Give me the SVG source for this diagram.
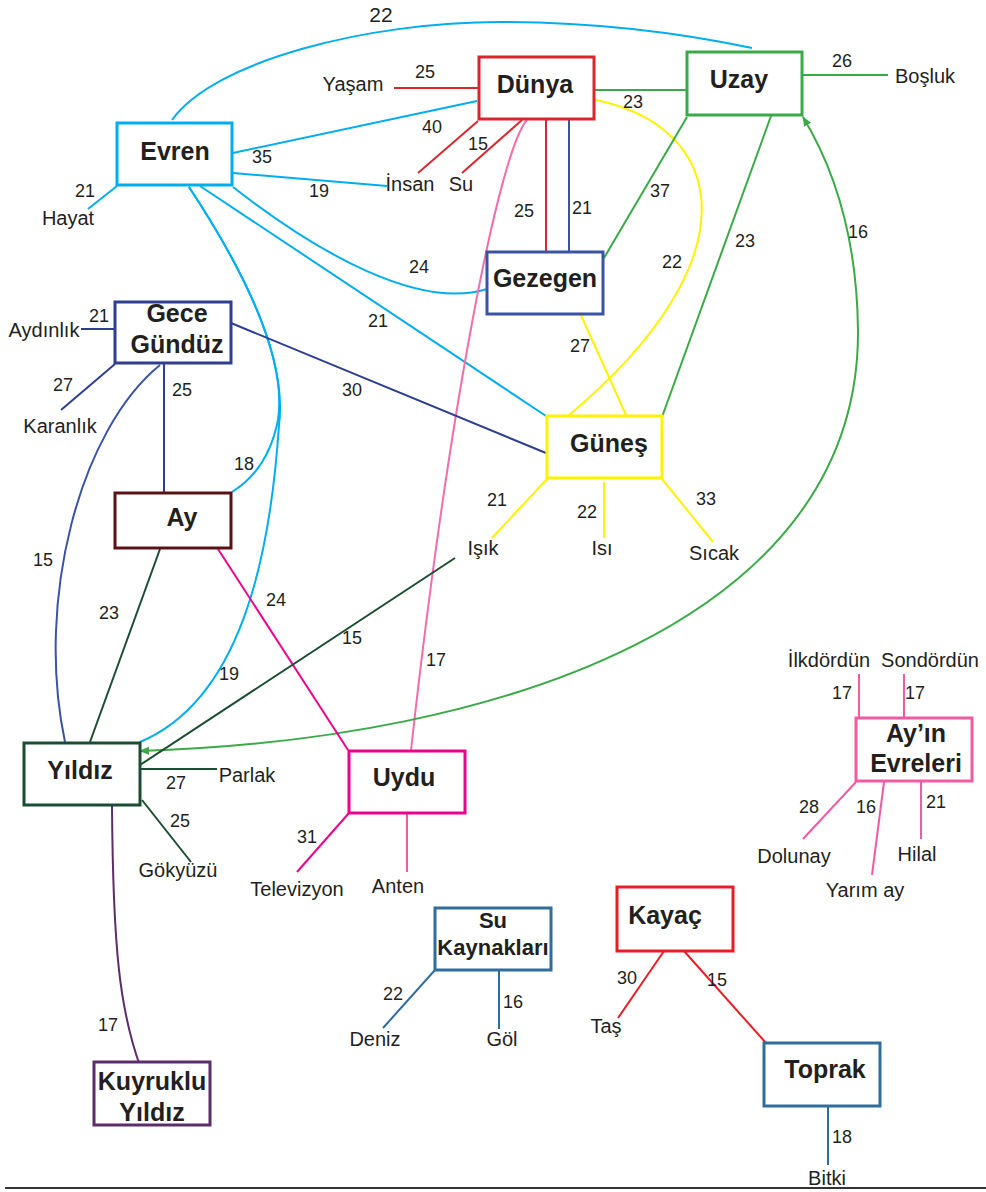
<svg xmlns="http://www.w3.org/2000/svg" width="986" height="1192" viewBox="0 0 986 1192">
<style>
text{font-family:"Liberation Sans",Arial,sans-serif;fill:#231f20}
.n{font-size:25px;font-weight:bold;text-anchor:middle}
.s{font-size:22px;font-weight:bold;text-anchor:middle}
.l{font-size:20px;text-anchor:middle}
.w{font-size:18px;text-anchor:middle}
.box{fill:#fff;stroke-width:3}
.c{fill:none;stroke-width:2}
</style>
<defs>
<marker id="ah" viewBox="0 0 10 10" refX="9" refY="5" markerWidth="10" markerHeight="10" markerUnits="userSpaceOnUse" orient="auto-start-reverse">
<path d="M0,1 L10,5 L0,9 z" fill="#3aaa47"/>
</marker>
</defs>
<rect width="986" height="1192" fill="#fff"/>
<g id="connectors">
<!-- Evren -->
<path class="c" stroke="#00aeef" d="M172,120 C215,60 370,22 500,22 C600,22 690,35 752,48"/>
<path class="c" stroke="#00aeef" d="M233,153 L477,101"/>
<path class="c" stroke="#00aeef" d="M233,173 L387,186"/>
<path class="c" stroke="#00aeef" d="M117,186 L88,209"/>
<path class="c" stroke="#00aeef" d="M233,187 C320,255 420,310 487,289"/>
<path class="c" stroke="#00aeef" d="M200,186 L546,416"/>
<path class="c" stroke="#00aeef" d="M189,187 Q290,340 278,420 Q268,470 232,492"/>
<path class="c" stroke="#00aeef" d="M189,187 Q290,340 279,425 C270,560 240,700 140,742"/>
<!-- Dünya -->
<path class="c" stroke="#d9272e" d="M394,88 L478,88"/>
<path class="c" stroke="#d9272e" d="M478,121 L418,173"/>
<path class="c" stroke="#d9272e" d="M522,120 L462,173"/>
<path class="c" stroke="#d9272e" stroke-width="4" d="M546,119 L546,252"/>
<path class="c" stroke="#3b53a4" stroke-width="2.5" d="M569,119 L569,252"/>
<path class="c" stroke="#f06eaa" d="M527,120 C500,150 450,400 411,750"/>
<path class="c" stroke="#3aaa47" stroke-width="2.5" d="M594,90 L687,90"/>
<path class="c" stroke="#fff200" d="M591,99 C730,125 755,260 568,416"/>
<!-- Uzay -->
<path class="c" stroke="#3aaa47" stroke-width="2.5" d="M802,75 L888,75"/>
<path class="c" stroke="#3aaa47" d="M687,117 L604,258"/>
<path class="c" stroke="#3aaa47" d="M771,116 L662,417"/>
<path class="c" stroke="#3aaa47" marker-start="url(#ah)" marker-end="url(#ah)" d="M140,751 C500,740 860,620 858,330 C857,240 835,170 803,117"/>
<!-- Gezegen -->
<path class="c" stroke="#fff200" d="M580,313 L626,415"/>
<!-- Gece Gündüz -->
<path class="c" stroke="#2e3f91" d="M81,329 L115,329"/>
<path class="c" stroke="#2e3f91" d="M115,364 L61,410"/>
<path class="c" stroke="#2e3f91" stroke-width="2.5" d="M164,363 L164,493"/>
<path class="c" stroke="#2e3f91" d="M231,323 L546,453"/>
<path class="c" stroke="#3b53a4" d="M160,365 C80,430 35,600 65,742"/>
<!-- Güneş -->
<path class="c" stroke="#fff200" d="M547,479 L492,538"/>
<path class="c" stroke="#fff200" d="M604,482 L604,538"/>
<path class="c" stroke="#fff200" d="M662,479 L713,542"/>
<!-- Ay -->
<path class="c" stroke="#1b4d32" d="M160,549 L90,742"/>
<path class="c" stroke="#ec008c" d="M218,549 L348,750"/>
<!-- Yıldız -->
<path class="c" stroke="#1b4d32" d="M140,765 L455,558"/>
<path class="c" stroke="#1b4d32" stroke-width="3.5" d="M140,769 L217,769"/>
<path class="c" stroke="#1b4d32" d="M142,800 L191,862"/>
<path class="c" stroke="#5c2d6b" d="M112,805 C113,950 120,1010 140,1066"/>
<!-- Uydu -->
<path class="c" stroke="#ec008c" d="M349,813 L297,872"/>
<path class="c" stroke="#f15a9f" stroke-width="3" d="M407,813 L407,872"/>
<!-- Ay'ın Evreleri -->
<path class="c" stroke="#f05ba2" stroke-width="3" d="M859,674 L859,718"/>
<path class="c" stroke="#f05ba2" stroke-width="3" d="M904,674 L904,718"/>
<path class="c" stroke="#f05ba2" d="M856,782 L803,839"/>
<path class="c" stroke="#f05ba2" d="M884,782 L872,875"/>
<path class="c" stroke="#f05ba2" stroke-width="3" d="M921,781 L921,839"/>
<!-- Su Kaynakları -->
<path class="c" stroke="#2f6d9c" d="M435,970 L383,1028"/>
<path class="c" stroke="#2f6d9c" stroke-width="3" d="M499,970 L499,1029"/>
<!-- Kayaç / Toprak -->
<path class="c" stroke="#ed1c24" d="M664,951 L618,1018"/>
<path class="c" stroke="#ed1c24" d="M684,951 L766,1043"/>
<path class="c" stroke="#2f6d9c" stroke-width="3" d="M828,1106 L828,1165"/>
</g>
<g id="node-evren"><rect class="box" stroke="#00aeef" x="117" y="123" width="115" height="62"/><text class="n" x="175" y="160">Evren</text></g>
<g id="node-dunya"><rect class="box" stroke="#d9272e" x="479" y="57" width="115" height="62"/><text class="n" x="535" y="93">Dünya</text></g>
<g id="node-uzay"><rect class="box" stroke="#3aaa47" x="687" y="52" width="115" height="63"/><text class="n" x="739" y="88">Uzay</text></g>
<g id="node-gezegen"><rect class="box" stroke="#3b53a4" x="487" y="252" width="116" height="62"/><text class="n" x="545" y="287">Gezegen</text></g>
<g id="node-gecegunduz"><rect class="box" stroke="#2e3f91" x="115" y="302" width="116" height="61"/><text class="n" x="177" y="322">Gece</text><text class="n" x="177" y="353">Gündüz</text></g>
<g id="node-gunes"><rect class="box" stroke="#fff200" x="547" y="416" width="115" height="62"/><text class="n" x="609" y="452">Güneş</text></g>
<g id="node-ay"><rect class="box" stroke="#5b1216" x="115" y="493" width="116" height="55"/><text class="n" x="182" y="526">Ay</text></g>
<g id="node-yildiz"><rect class="box" stroke="#1b4d32" x="24" y="743" width="116" height="62"/><text class="n" x="80" y="779">Yıldız</text></g>
<g id="node-uydu"><rect class="box" stroke="#ec008c" x="349" y="751" width="116" height="62"/><text class="n" x="404" y="786">Uydu</text></g>
<g id="node-ayinevreleri"><rect class="box" stroke="#f05ba2" x="856" y="718" width="116" height="63"/><text class="n" x="916" y="742">Ay’ın</text><text class="n" x="916" y="772">Evreleri</text></g>
<g id="node-sukaynaklari"><rect class="box" stroke="#2f6d9c" x="435" y="908" width="116" height="62"/><text class="s" x="493" y="928">Su</text><text class="s" x="493" y="955">Kaynakları</text></g>
<g id="node-kayac"><rect class="box" stroke="#ed1c24" x="617" y="887" width="116" height="64"/><text class="n" x="665" y="924">Kayaç</text></g>
<g id="node-toprak"><rect class="box" stroke="#2f6d9c" x="764" y="1043" width="116" height="63"/><text class="n" x="825" y="1078">Toprak</text></g>
<g id="node-kuyrukluyildiz"><rect class="box" stroke="#5c2d6b" x="94" y="1062" width="116" height="63"/><text class="n" x="152" y="1090">Kuyruklu</text><text class="n" x="152" y="1121">Yıldız</text></g>
<g id="leaves">
<text class="l" x="353" y="91">Yaşam</text>
<text class="l" x="410" y="191">İnsan</text>
<text class="l" x="461" y="191">Su</text>
<text class="l" x="68" y="225">Hayat</text>
<text class="l" x="925" y="83">Boşluk</text>
<text class="l" x="44" y="337">Aydınlık</text>
<text class="l" x="60" y="433">Karanlık</text>
<text class="l" x="483" y="555">Işık</text>
<text class="l" x="602" y="555">Isı</text>
<text class="l" x="714" y="560">Sıcak</text>
<text class="l" x="247" y="782">Parlak</text>
<text class="l" x="178" y="877">Gökyüzü</text>
<text class="l" x="297" y="896">Televizyon</text>
<text class="l" x="398" y="893">Anten</text>
<text class="l" x="829" y="667">İlkdördün</text>
<text class="l" x="930" y="667">Sondördün</text>
<text class="l" x="794" y="863">Dolunay</text>
<text class="l" x="917" y="861">Hilal</text>
<text class="l" x="865" y="897">Yarım ay</text>
<text class="l" x="375" y="1046">Deniz</text>
<text class="l" x="502" y="1046">Göl</text>
<text class="l" x="606" y="1033">Taş</text>
<text class="l" x="827" y="1185">Bitki</text>
</g>
<g id="weights">
<text class="w" x="381" y="22" style="font-size:21px">22</text>
<text class="w" x="425" y="78">25</text>
<text class="w" x="432" y="133">40</text>
<text class="w" x="478" y="150">15</text>
<text class="w" x="262" y="163">35</text>
<text class="w" x="319" y="197">19</text>
<text class="w" x="85" y="197">21</text>
<text class="w" x="419" y="273">24</text>
<text class="w" x="633" y="108">23</text>
<text class="w" x="842" y="67">26</text>
<text class="w" x="660" y="197">37</text>
<text class="w" x="524" y="217">25</text>
<text class="w" x="582" y="214">21</text>
<text class="w" x="672" y="268">22</text>
<text class="w" x="745" y="247">23</text>
<text class="w" x="858" y="238">16</text>
<text class="w" x="99" y="322">21</text>
<text class="w" x="63" y="391">27</text>
<text class="w" x="182" y="396">25</text>
<text class="w" x="352" y="396">30</text>
<text class="w" x="378" y="327">21</text>
<text class="w" x="244" y="470">18</text>
<text class="w" x="580" y="352">27</text>
<text class="w" x="497" y="506">21</text>
<text class="w" x="587" y="518">22</text>
<text class="w" x="706" y="505">33</text>
<text class="w" x="43" y="566">15</text>
<text class="w" x="109" y="619">23</text>
<text class="w" x="276" y="606">24</text>
<text class="w" x="352" y="644">15</text>
<text class="w" x="436" y="666">17</text>
<text class="w" x="229" y="680">19</text>
<text class="w" x="176" y="789">27</text>
<text class="w" x="180" y="827">25</text>
<text class="w" x="307" y="843">31</text>
<text class="w" x="842" y="699">17</text>
<text class="w" x="915" y="699">17</text>
<text class="w" x="809" y="813">28</text>
<text class="w" x="866" y="813">16</text>
<text class="w" x="936" y="808">21</text>
<text class="w" x="108" y="1031">17</text>
<text class="w" x="393" y="1000">22</text>
<text class="w" x="513" y="1008">16</text>
<text class="w" x="627" y="984">30</text>
<text class="w" x="717" y="986">15</text>
<text class="w" x="842" y="1143">18</text>
</g>
<line x1="5" y1="1188" x2="986" y2="1188" stroke="#333" stroke-width="2"/>
</svg>
